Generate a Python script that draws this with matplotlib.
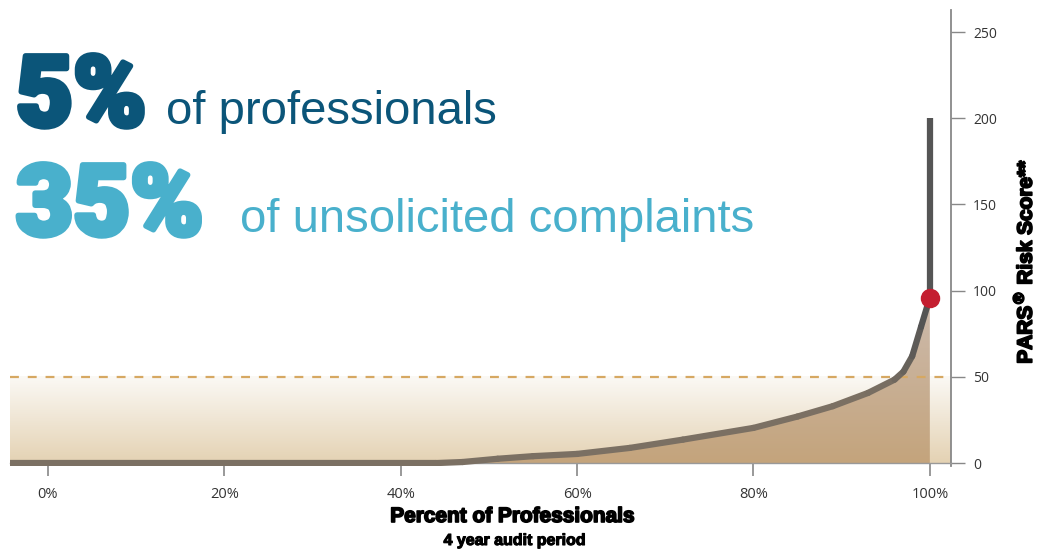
import numpy as np
import matplotlib
matplotlib.use("Agg")
import matplotlib.pyplot as plt
from matplotlib.colors import LinearSegmentedColormap
from matplotlib.patches import Polygon
from matplotlib.collections import LineCollection
import matplotlib.patheffects as pe

# Sorted risk curve: percent of professionals vs PARS risk score
pct = [-4.3, 44, 47, 51, 55, 60, 66, 72, 80, 85, 89, 93, 96, 97, 98, 99, 100]
score = [0, 0, 0.6, 2.5, 4.0, 5.3, 8.8, 13.6, 20.4, 27, 33, 40.7, 48.4, 53, 62, 79, 96]
top_score = 200        # highest score, drawn as the vertical tail at 100 %
marker_score = 96      # red dot at 100 %
threshold = 50         # dashed threshold line

xticks = [0, 20, 40, 60, 80, 100]
xtick_labels = ["0%", "20%", "40%", "60%", "80%", "100%"]
yticks = [0, 50, 100, 150, 200, 250]

W, H = 1038, 551
fig = plt.figure(figsize=(W / 100, H / 100), dpi=100)
fig.patch.set_facecolor("white")

ax = fig.add_axes([10 / W, (H - 466) / H, (951 - 10) / W, (466 - 10) / H])
xmin, xmax = -4.3, 102.4
ymin, ymax = -1.7, 262.8
ax.set_xlim(xmin, xmax)
ax.set_ylim(ymin, ymax)

# beige band below the threshold
band_cmap = LinearSegmentedColormap.from_list("band", ["#e4d2b3", "#fbf9f5"])
grad = np.linspace(0, 1, 256).reshape(-1, 1)
ax.imshow(grad, cmap=band_cmap, origin="lower", aspect="auto",
          extent=[xmin, xmax, 0, threshold], zorder=1, interpolation="bicubic")

# darker area under the curve
fill_cmap = LinearSegmentedColormap.from_list("fill", ["#c4a47c", "#cdbcb0"])
img = ax.imshow(grad, cmap=fill_cmap, origin="lower", aspect="auto",
                extent=[xmin, 100, 0, 100], zorder=2, interpolation="bicubic")
poly = Polygon(list(zip(pct, score)) + [(100, 0)], closed=True,
               transform=ax.transData, facecolor="none", edgecolor="none")
ax.add_patch(poly)
img.set_clip_path(poly)

ax.axhline(threshold, color="#d6a862", lw=1.6, ls=(0, (4, 4)), zorder=3)

# curve, shading from warm grey to dark grey
pts = np.column_stack([pct, score])
segs = np.stack([pts[:-1], pts[1:]], axis=1)
line_cmap = LinearSegmentedColormap.from_list("line", ["#7b7063", "#7b7063", "#545454"])
cols = line_cmap(np.linspace(0, 1, len(segs)) ** 2)
lc = LineCollection(segs, colors=cols, linewidths=4.5, capstyle="round",
                    joinstyle="round", zorder=4)
ax.add_collection(lc)
ax.plot([100, 100], [marker_score, top_score], color="#555555", lw=4.5,
        solid_capstyle="butt", zorder=4)
ax.plot([100], [marker_score], "o", ms=13, color="#c41e30", zorder=5)

# axes styling
for s in ["top", "left"]:
    ax.spines[s].set_visible(False)
ax.spines["right"].set_color("#888888")
ax.spines["right"].set_linewidth(1.3)
ax.spines["bottom"].set_position(("data", 0))
ax.spines["bottom"].set_color("#999999")
ax.spines["bottom"].set_linewidth(1.0)
ax.spines["bottom"].set_zorder(3)

ax.yaxis.tick_right()
ax.set_yticks(yticks)
ax.set_yticklabels([str(v) for v in yticks])
ax.tick_params(axis="y", direction="out", length=10, width=1.0, color="#888888",
               pad=6, labelsize=10, labelcolor="#333333")
ax.set_xticks(xticks)
ax.set_xticklabels(xtick_labels)
ax.tick_params(axis="x", direction="out", length=9, width=1.2, color="#888888",
               pad=8, labelsize=10.5, labelcolor="#333333")
for lab in ax.get_xticklabels() + ax.get_yticklabels():
    lab.set_fontfamily("Open Sans")

# axis titles (thickened with a same-colour stroke)
def heavy(w, color="black"):
    return [pe.withStroke(linewidth=w, foreground=color)]

sans = ["Liberation Sans", "DejaVu Sans"]
fig.text(513 / W, 1 - 522 / H, "Percent of Professionals", ha="center",
         va="baseline", fontsize=15, fontweight="bold", family=sans,
         color="black", path_effects=heavy(1.2))
fig.text(515 / W, 1 - 545 / H, "4 year audit period", ha="center",
         va="baseline", fontsize=11.5, fontweight="bold", family=sans,
         color="black", path_effects=heavy(0.8))
fig.text(1010 / W, 1 - 261 / H, r"PARS$^{\circledR}$ Risk Score**", ha="left",
         va="center", rotation=90, fontsize=15, fontweight="bold",
         family=sans, color="black", path_effects=heavy(1.3))

# headline figures
big = ["Roboto", "DejaVu Sans"]
dark, light = "#0b5579", "#49b0cc"
fig.text(16 / W, 1 - 126 / H, "5%", ha="left", va="baseline", fontsize=71,
         fontweight="black", style="normal", family=big, color=dark,
         path_effects=heavy(4, dark))
fig.text(166 / W, 1 - 124 / H, "of professionals", ha="left", va="baseline",
         fontsize=34, family=["Liberation Sans"], color=dark)
fig.text(16 / W, 1 - 235 / H, "35%", ha="left", va="baseline", fontsize=71,
         fontweight="black", style="normal", family=big, color=light,
         path_effects=heavy(4, light))
fig.text(240 / W, 1 - 232 / H, "of unsolicited complaints", ha="left",
         va="baseline", fontsize=34, family=["Liberation Sans"], color=light)

fig.savefig("out.png", dpi=100)
